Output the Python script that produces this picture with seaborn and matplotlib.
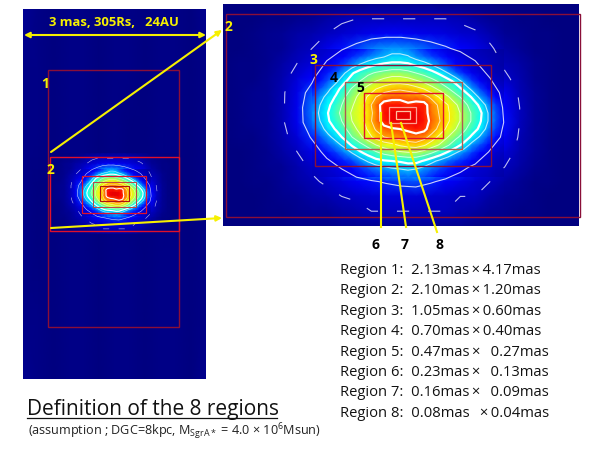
import matplotlib
matplotlib.use('Agg')
import numpy as np
import matplotlib.pyplot as plt
from matplotlib.colors import LinearSegmentedColormap
from matplotlib.patches import Rectangle
import seaborn as sns

coarse_rows = [
    [.00, .00, .00, .00, .00, .00, .01, .01, .01, .01, .02, .02, .02, .02, .02, .01, .01, .01, .01, .00, .00, .00, .00, .00, .00],
    [.00, .00, .00, .01, .01, .02, .03, .05, .07, .08, .08, .08, .08, .08, .08, .08, .07, .05, .03, .02, .01, .01, .00, .00, .00],
    [.00, .00, .01, .02, .03, .05, .06, .08, .10, .12, .14, .15, .15, .14, .13, .12, .10, .09, .06, .03, .02, .01, .01, .00, .00],
    [.00, .00, .01, .02, .03, .06, .08, .13, .17, .21, .25, .27, .27, .25, .22, .19, .16, .13, .09, .05, .03, .01, .01, .00, .00],
    [.00, .01, .01, .02, .05, .08, .11, .19, .26, .32, .36, .38, .38, .37, .34, .31, .25, .19, .12, .07, .05, .02, .01, .00, .00],
    [.00, .01, .01, .03, .06, .11, .16, .29, .40, .48, .53, .56, .56, .55, .52, .47, .40, .30, .18, .09, .06, .02, .01, .00, .00],
    [.00, .01, .02, .03, .07, .13, .22, .36, .48, .58, .65, .72, .74, .74, .69, .62, .53, .41, .25, .14, .07, .03, .01, .00, .00],
    [.00, .01, .02, .03, .07, .14, .25, .38, .52, .62, .72, .85, .88, .88, .80, .69, .59, .46, .29, .16, .08, .03, .01, .00, .00],
    [.00, .01, .02, .03, .07, .14, .24, .36, .51, .62, .73, .86, .90, .89, .82, .70, .59, .46, .30, .17, .08, .03, .01, .00, .00],
    [.00, .01, .01, .03, .06, .11, .19, .31, .44, .55, .63, .71, .75, .76, .72, .63, .52, .40, .25, .15, .07, .03, .01, .00, .00],
    [.00, .00, .01, .02, .05, .08, .13, .21, .33, .42, .50, .56, .59, .58, .54, .47, .38, .27, .17, .11, .06, .03, .01, .00, .00],
    [.00, .00, .01, .02, .03, .06, .09, .14, .19, .25, .31, .36, .38, .38, .33, .27, .21, .16, .11, .08, .05, .02, .01, .00, .00],
    [.00, .00, .01, .01, .03, .05, .07, .09, .12, .15, .17, .19, .21, .22, .19, .16, .13, .10, .08, .05, .03, .01, .01, .00, .00],
    [.00, .00, .00, .01, .02, .03, .05, .06, .08, .09, .10, .11, .11, .11, .10, .09, .08, .08, .05, .03, .02, .01, .00, .00, .00],
    [.00, .00, .00, .01, .01, .02, .03, .03, .05, .06, .08, .08, .08, .08, .08, .08, .06, .05, .03, .02, .01, .01, .00, .00, .00],
    [.00, .00, .00, .00, .00, .01, .01, .01, .02, .02, .02, .03, .03, .03, .03, .02, .02, .01, .01, .01, .00, .00, .00, .00, .00],
]

# Fijner rooster rond de kern (x 312-504, y 49-177 in het rechter paneel)
core_rows = [
    [.08, .09, .10, .11, .13, .14, .16, .19, .22, .25, .27, .27, .25, .22, .19, .16, .14, .12, .10, .09, .08, .07, .06, .05, .04],
    [.09, .10, .12, .14, .16, .19, .22, .25, .28, .30, .32, .32, .31, .27, .24, .21, .18, .15, .13, .11, .09, .08, .07, .06, .05],
    [.10, .12, .14, .17, .21, .26, .31, .35, .38, .40, .41, .41, .40, .37, .34, .30, .25, .20, .16, .13, .11, .09, .08, .06, .05],
    [.11, .14, .18, .22, .29, .37, .42, .46, .49, .51, .53, .53, .51, .48, .45, .41, .36, .30, .23, .18, .14, .11, .09, .07, .06],
    [.13, .17, .22, .28, .36, .42, .48, .53, .57, .60, .62, .62, .61, .58, .55, .51, .46, .41, .35, .27, .20, .15, .11, .09, .07],
    [.17, .22, .28, .35, .42, .49, .55, .60, .65, .68, .70, .71, .70, .68, .65, .60, .55, .49, .43, .36, .28, .21, .15, .12, .09],
    [.21, .27, .33, .39, .47, .53, .60, .66, .72, .77, .79, .79, .77, .77, .75, .70, .64, .58, .51, .45, .37, .28, .21, .16, .12],
    [.24, .30, .36, .43, .50, .56, .62, .68, .78, .86, .87, .87, .84, .86, .86, .76, .70, .65, .58, .51, .44, .36, .27, .20, .14],
    [.26, .31, .38, .45, .52, .58, .62, .67, .76, .87, .90, .91, .91, .90, .86, .77, .71, .66, .60, .54, .47, .40, .30, .22, .15],
    [.25, .30, .37, .43, .50, .57, .62, .68, .77, .86, .90, .91, .91, .90, .87, .79, .72, .66, .60, .54, .47, .39, .30, .22, .16],
    [.22, .27, .33, .39, .46, .53, .60, .66, .73, .79, .81, .82, .84, .87, .85, .76, .69, .63, .57, .50, .43, .36, .27, .20, .14],
    [.18, .22, .28, .33, .40, .48, .55, .62, .68, .72, .74, .75, .77, .78, .75, .69, .63, .57, .50, .44, .36, .29, .22, .17, .12],
    [.14, .18, .22, .27, .32, .39, .45, .51, .57, .61, .63, .66, .68, .69, .66, .61, .56, .49, .42, .35, .27, .22, .17, .13, .10],
    [.11, .14, .17, .20, .25, .30, .36, .41, .46, .50, .53, .55, .56, .56, .53, .48, .42, .36, .30, .25, .20, .16, .13, .10, .08],
    [.09, .11, .13, .15, .18, .21, .26, .31, .35, .37, .38, .39, .41, .41, .37, .32, .28, .24, .21, .18, .15, .12, .10, .08, .07],
    [.08, .09, .10, .12, .14, .16, .19, .22, .25, .27, .29, .30, .31, .30, .27, .24, .21, .18, .16, .14, .12, .10, .09, .07, .06],
    [.07, .08, .09, .10, .12, .13, .15, .17, .18, .20, .21, .23, .24, .23, .21, .18, .16, .14, .13, .11, .10, .09, .08, .06, .05],
]

# Achtergrond van het linker paneel (lichte strepen)
wide_rows = [
    [.03, .01, .00, .01, .01, .00, .01, .01, .00, .01, .01, .00, .02],
    [.01, .01, .00, .01, .01, .00, .01, .01, .00, .01, .01, .00, .01],
    [.01, .01, .00, .01, .01, .00, .01, .00, .00, .01, .01, .00, .01],
    [.01, .00, .00, .01, .01, .00, .01, .00, .00, .01, .00, .00, .01],
    [.01, .00, .00, .01, .01, .00, .01, .01, .00, .01, .01, .00, .01],
    [.01, .01, .00, .01, .01, .00, .01, .01, .00, .01, .01, .00, .01],
    [.02, .01, .00, .01, .01, .00, .01, .01, .00, .01, .01, .00, .02],
]

# Contourniveaus: buitenste twee uit het grove rooster, de rest uit de kern
outer_levels = [.08, .18]
core_levels = [.30, .38, .48, .57, .65, .72, .82]
core_widths = [.8, 1.6, .7, .7, .7, .7, 1.6]

region_names = ['Region 1:', 'Region 2:', 'Region 3:', 'Region 4:', 'Region 5:', 'Region 6:', 'Region 7:', 'Region 8:']
region_w = ['2.13mas', '2.10mas', '1.05mas', '0.70mas', '0.47mas', '0.23mas', '0.16mas', '0.08mas  ']
region_h = ['4.17mas', '1.20mas', '0.60mas', '0.40mas', '  0.27mas', '  0.13mas', '  0.09mas', '0.04mas']

W, H = 609, 457
DARK = '#8a0f38'
RED = '#e0102a'
YEL = '#f6f000'

# jet, maar met een tragere blauwe aanloop zoals in de figuur
map_cmap = LinearSegmentedColormap.from_list('map_jet', [
    (0, (0, 0, .5)), (.16, (0, 0, 1)), (.35, (0, 1, 1)), (.38, (0, 1, 1)),
    (.64, (1, 1, 0)), (.89, (1, 0, 0)), (1, (.5, 0, 0))])

plt.rcParams['font.family'] = ['Open Sans', 'DejaVu Sans']
plt.rcParams['mathtext.default'] = 'regular'

fig = plt.figure(figsize=(W / 100, H / 100), dpi=100)


def px_axes(x0, y0, x1, y1):
    return fig.add_axes([x0 / W, 1 - y1 / H, (x1 - x0) / W, (y1 - y0) / H], facecolor='none')


def draw_map(ax, rows):
    data = np.array(rows)
    sns.heatmap(data, ax=ax, cmap=map_cmap, vmin=0, vmax=1, cbar=False,
                xticklabels=False, yticklabels=False, shading='gouraud')
    ax.set_xlim(0, data.shape[1] - 1)
    ax.set_ylim(data.shape[0] - 1, 0)
    ax.axis('off')


def draw_panel(x0, y0, x1, y1, scale):
    # x0..y1 is het kader van het grove rooster, de kern ligt daar op vaste fractie in
    sx = (x1 - x0) / 356
    sy = (y1 - y0) / 222
    ax_base = px_axes(x0, y0, x1, y1)
    draw_map(ax_base, coarse_rows)
    ax_core = px_axes(x0 + (312 - 223) * sx, y0 + (49 - 4) * sy, x0 + (504 - 223) * sx, y0 + (177 - 4) * sy)
    draw_map(ax_core, core_rows)
    for level, lw in zip(core_levels, core_widths):
        ax_core.contour(np.array(core_rows), levels=[level], colors='white', linewidths=lw * scale,
                        alpha=1.0 if lw > 1 else .7)
    # apart assenstelsel zodat de buitenste contouren boven de kern liggen
    ax_top = px_axes(x0, y0, x1, y1)
    ax_top.set_xlim(0, len(coarse_rows[0]) - 1)
    ax_top.set_ylim(len(coarse_rows) - 1, 0)
    ax_top.axis('off')
    ax_top.contour(np.array(coarse_rows), levels=[outer_levels[0]], colors='white', linewidths=.8 * scale,
                   linestyles=[(0, (11, 17))], alpha=.75)
    ax_top.contour(np.array(coarse_rows), levels=[outer_levels[1]], colors='white', linewidths=.8 * scale, alpha=.8)


ax_wide = px_axes(23, 9, 206, 379)
draw_map(ax_wide, wide_rows)
draw_panel(48.4, 152.8, 178.7, 234.3, .5)
draw_panel(223, 4, 579, 226, 1.0)

# Overlay in pixelcoordinaten voor kaders, pijlen en tekst
over = fig.add_axes([0, 0, 1, 1], facecolor='none')
over.set_xlim(0, W)
over.set_ylim(H, 0)
over.axis('off')


def box(x0, y0, x1, y1, color=RED, lw=1.0):
    over.add_patch(Rectangle((x0, y0), x1 - x0, y1 - y0, fill=False, edgecolor=color, linewidth=lw))


# linker paneel
box(47.5, 70, 179, 327, DARK, 1.0)
box(49.5, 156.5, 179, 231, RED, 1.0)
box(82, 175.5, 146, 212.5, RED, .9)
box(92.5, 181.5, 135.5, 206.5, '#c04040', .7)
box(99.5, 186, 129, 201, '#b01010', .8)
# rechter paneel
box(226, 14, 580, 217, DARK, 1.0)
box(314.5, 64.5, 491, 166, DARK, 1.0)
box(344.5, 81.5, 461.5, 149, '#b05a50', 1.0)
box(363.5, 93, 442.5, 137.5, RED, 1.0)
box(389, 107, 416, 123, '#ffa090', .9)
box(396, 111, 410, 119, '#ffc0a0', .9)


def arrow(x0, y0, x1, y1, style='-|>', lw=1.5):
    over.annotate('', xy=(x1, y1), xytext=(x0, y0),
                  arrowprops=dict(arrowstyle=style, color=YEL, lw=lw, mutation_scale=8, shrinkA=0, shrinkB=0))


arrow(24, 35, 206, 35, '<|-|>')
arrow(51, 152, 222, 30)
arrow(51, 228, 222, 218)
over.plot([381, 381], [227, 113], color=YEL, lw=1.5)
over.plot([406, 391], [227, 123], color=YEL, lw=1.5)
over.plot([437, 401], [232, 123], color=YEL, lw=1.5)

over.text(114, 23, '3 mas, 305Rs,   24AU', color=YEL, fontsize=9.4, fontweight='bold', ha='center', va='center')
for x, y, s, c in [(45, 84, '1', YEL), (50, 170, '2', YEL), (228, 27, '2', YEL), (313, 60, '3', YEL),
                   (334, 78, '4', 'black'), (360, 88, '5', 'black'),
                   (376, 245, '6', 'black'), (405, 245, '7', 'black'), (440, 245, '8', 'black')]:
    over.text(x, y, s, color=c, fontsize=10, fontweight='bold', ha='center', va='center')

for i, name in enumerate(region_names):
    over.text(340, 270.5 + i * 20.4, f'{name}  {region_w[i]}\u2009\u00d7\u2009{region_h[i]}',
              fontsize=10.6, color='#111111', ha='left', va='center')

over.text(27, 409, 'Definition of the 8 regions', fontsize=15, color='#111111', ha='left', va='center')
over.plot([27, 277], [418, 418], color='#111111', lw=.9)
over.text(28, 432, '(assumption ; DGC=8kpc, M$_{SgrA*}$ = 4.0 \u00d7 10$^{6}$Msun)',
          fontsize=9.1, color='#222222', ha='left', va='center')

fig.savefig('out.png', dpi=100)
